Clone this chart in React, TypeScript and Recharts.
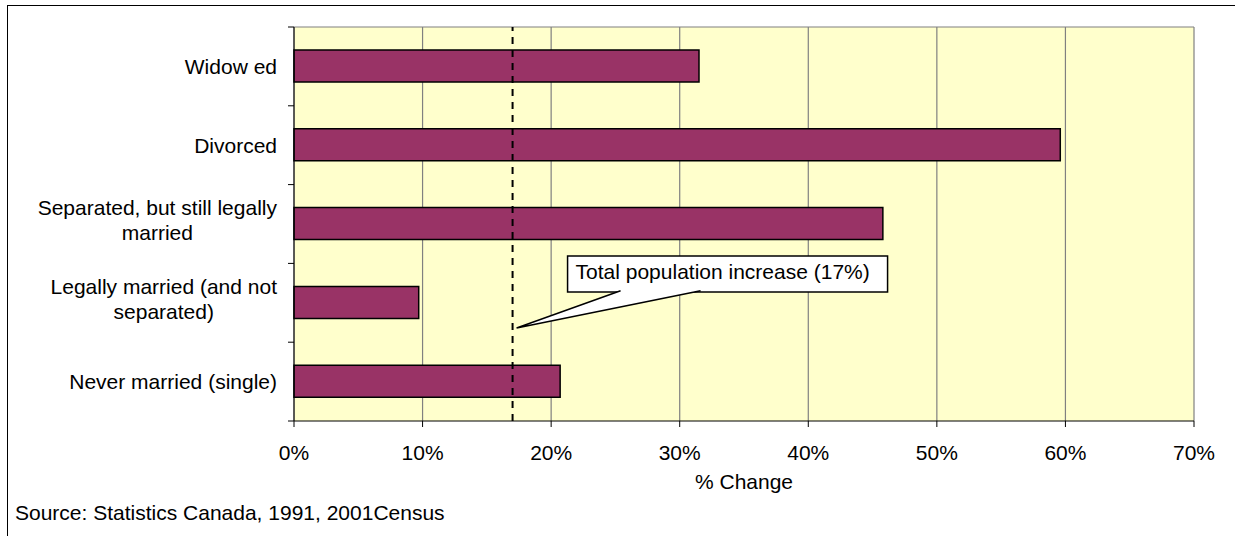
import React from "react";
import {
  BarChart,
  Bar,
  XAxis,
  YAxis,
  CartesianGrid,
  ReferenceLine,
} from "recharts";

const categories = [
  "Widow ed",
  "Divorced",
  "Separated, but still legally\nmarried",
  "Legally married (and not\nseparated)",
  "Never married (single)",
];
const changePct = [31.5, 59.6, 45.8, 9.7, 20.7];
const pctTicks = [0, 10, 20, 30, 40, 50, 60, 70];
const totalIncrease = 17;
const axisTitle = "% Change";
const sourceNote = "Source: Statistics Canada, 1991, 2001Census";

const data = categories.map((status, i) => ({ status, change: changePct[i] }));

const FONT = '"Liberation Sans", Arial, sans-serif';
const FS = 21;
const TICK_SIZE = 6;
const Y_TICK_MARGIN = 11;
const LINE_H = 25;

let measureCtx: CanvasRenderingContext2D | null = null;
function textWidth(s: string): number {
  if (!measureCtx) {
    measureCtx = document.createElement("canvas").getContext("2d");
  }
  if (!measureCtx) return s.length * FS * 0.5;
  measureCtx.font = `${FS}px "Liberation Sans"`;
  return measureCtx.measureText(s).width;
}

// category label, block right-aligned with its lines centred; also draws the
// small tick marks that sit between categories
function CategoryTick(props: any) {
  const { x, y, payload, index } = props;
  const lines: string[] = String(payload.value).split("\n");
  const half = payload.offset ?? 0;
  const axisX = x + Y_TICK_MARGIN + TICK_SIZE;
  const maxW = Math.max(...lines.map(textWidth));
  const multi = lines.length > 1;
  const cx = multi ? x - maxW / 2 : x;
  return (
    <g>
      {lines.map((ln, i) => {
        const dy = multi ? (i - (lines.length - 1) / 2) * LINE_H - 4 : 0;
        return (
          <text
            key={i}
            x={cx}
            y={y + dy}
            dy="0.36em"
            textAnchor={multi ? "middle" : "end"}
            fontFamily={FONT}
            fontSize={FS}
            fill="#000"
          >
            {ln}
          </text>
        );
      })}
      <line x1={axisX - TICK_SIZE} x2={axisX} y1={y - half} y2={y - half} stroke="#000" />
      {index === categories.length - 1 && (
        <line x1={axisX - TICK_SIZE} x2={axisX} y1={y + half} y2={y + half} stroke="#000" />
      )}
    </g>
  );
}

// speech-bubble callout pointing at the dashed reference line
function Callout(props: any) {
  const { viewBox } = props;
  if (!viewBox) return null;
  const lx = viewBox.x;
  const top = viewBox.y;
  const boxX = lx + 55;
  const boxY = top + 229;
  const boxW = 320;
  const boxH = 36;
  const tipX = lx + 4;
  const tipY = top + 301;
  const b1 = boxX + 53;
  const b2 = boxX + 133;
  const by = boxY + boxH;
  return (
    <g>
      <rect x={boxX} y={boxY} width={boxW} height={boxH} fill="#fff" stroke="#000" strokeWidth={1.5} />
      <path
        d={`M${b1},${by - 1.2} L${tipX},${tipY} L${b2},${by - 1.2}`}
        fill="#fff"
        stroke="#000"
        strokeWidth={1.5}
      />
      <text x={boxX + 8} y={boxY + 23} fontFamily={FONT} fontSize={FS} fill="#000">
        {`Total population increase (${totalIncrease}%)`}
      </text>
    </g>
  );
}

function AxisTitle(props: any) {
  const { viewBox } = props;
  if (!viewBox) return null;
  return (
    <text
      x={viewBox.x + viewBox.width / 2}
      y={viewBox.y + 68}
      textAnchor="middle"
      fontFamily={FONT}
      fontSize={FS}
      fill="#000"
    >
      {axisTitle}
    </text>
  );
}

export default function App() {
  return (
    <div
      style={{
        position: "absolute",
        left: 0,
        top: 0,
        width: 1235,
        height: 536,
        overflow: "hidden",
        background: "#fff",
        fontFamily: FONT,
      }}
    >
      <div
        style={{
          position: "absolute",
          left: 7,
          top: 5,
          width: 1240,
          height: 540,
          borderTop: "1px solid #000",
          borderLeft: "1px solid #000",
        }}
      />
      <BarChart
        width={1235}
        height={536}
        data={data}
        layout="vertical"
        margin={{ top: 27, right: 41, bottom: 0, left: 0 }}
        style={{ position: "absolute", left: 0, top: 0 }}
      >
        <CartesianGrid
          fill="#FFFFCC"
          stroke="#808080"
          strokeWidth={1.2}
          horizontalCoordinatesGenerator={({ offset }: any) => [offset.top]}
        />
        <XAxis
          type="number"
          domain={[0, 70]}
          ticks={pctTicks}
          interval={0}
          tickFormatter={(v: number) => `${v}%`}
          height={115}
          tickSize={TICK_SIZE}
          tickMargin={18}
          stroke="#000"
          tick={{ fill: "#000", fontSize: FS, fontFamily: FONT }}
          label={<AxisTitle />}
        />
        <YAxis
          type="category"
          dataKey="status"
          width={294}
          interval={0}
          tickLine={false}
          tickSize={TICK_SIZE}
          tickMargin={Y_TICK_MARGIN}
          stroke="#000"
          tick={<CategoryTick />}
        />
        <Bar
          dataKey="change"
          fill="#993366"
          stroke="#000"
          strokeWidth={1.5}
          barSize={32}
          isAnimationActive={false}
        />
        <ReferenceLine
          x={totalIncrease}
          stroke="#000"
          strokeWidth={2}
          strokeDasharray="7 6"
          label={<Callout />}
        />
      </BarChart>
      <div
        style={{
          position: "absolute",
          left: 15,
          top: 501,
          fontSize: FS,
          lineHeight: "24px",
          color: "#000",
          whiteSpace: "nowrap",
        }}
      >
        {sourceNote}
      </div>
    </div>
  );
}
